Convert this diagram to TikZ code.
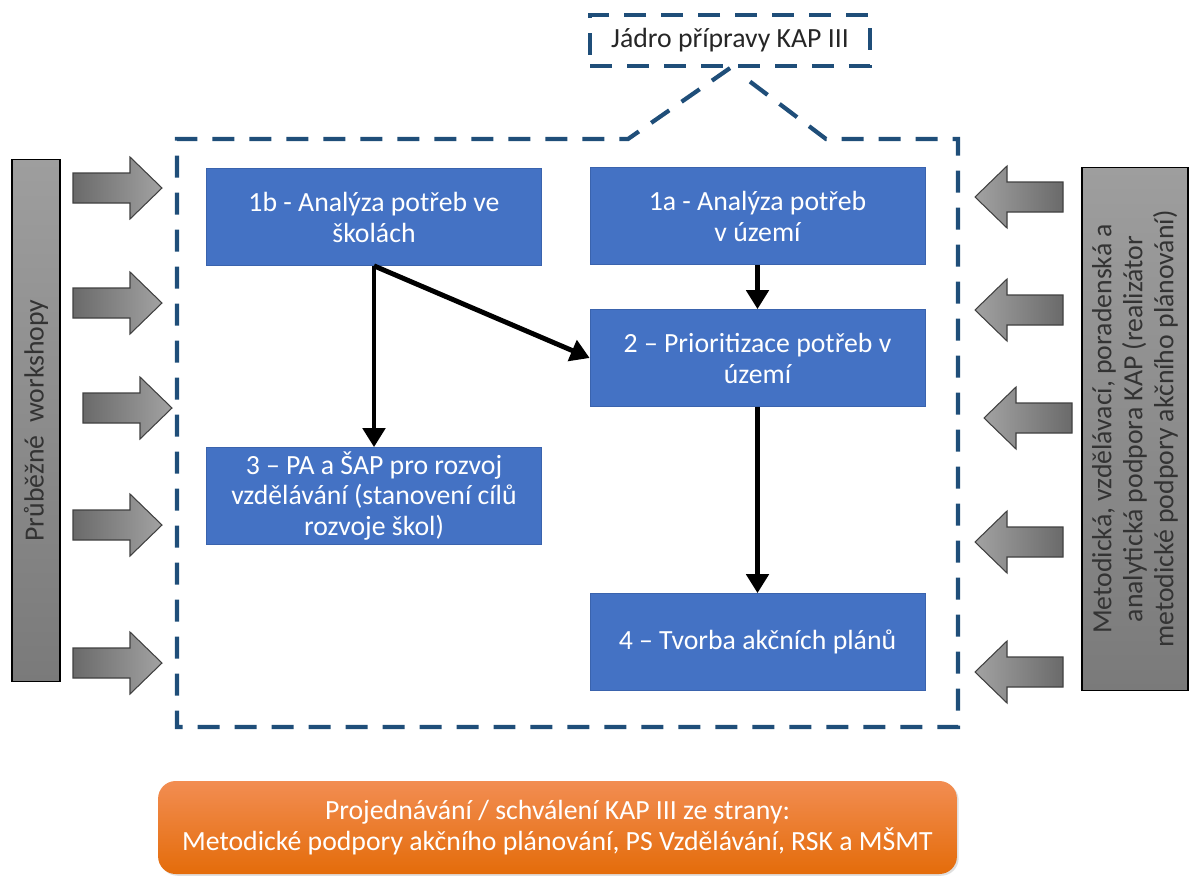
\documentclass[tikz,border=0pt]{standalone}
\usepackage{fontspec}
\setmainfont{Carlito}
\usetikzlibrary{arrows.meta}
\usetikzlibrary{calc}
\usetikzlibrary{shadows}

\definecolor{stepblue}{HTML}{4472C4}
\definecolor{stepedge}{HTML}{3A63AD}
\definecolor{coreblue}{HTML}{1F4E79}
\definecolor{barlight}{HTML}{9E9E9E}
\definecolor{bardark}{HTML}{7A7A7A}
\definecolor{arrlight}{HTML}{A2A2A2}
\definecolor{arrdark}{HTML}{6A6A6A}
\definecolor{orangetop}{HTML}{F28D52}
\definecolor{orangebot}{HTML}{E46C0A}

\tikzset{
  txt/.style={font=\fontsize{15.8}{17.6}\selectfont},
  stepbox/.style={txt, draw=stepedge, fill=stepblue, text=white, align=center,
    minimum width=6.7cm, minimum height=1.94cm, inner sep=2pt},
  flow/.style={-{Triangle[length=0.38cm,width=0.44cm]}, line width=2.8pt},
  corestyle/.style={draw=coreblue, line width=2.4pt, dash pattern=on 0.44cm off 0.3cm},
  sidebar/.style={draw=black, line width=0.6pt, top color=barlight, bottom color=bardark},
  bartext/.style={txt, rotate=90, align=center, text=black!80},
  arrowright/.style={draw=black!75, line width=0.6pt, left color=arrdark, right color=arrlight},
  arrowleft/.style={draw=black!75, line width=0.6pt, left color=arrlight, right color=arrdark}
}

\begin{document}
\begin{tikzpicture}[x=0.02cm,y=-0.02cm]
\useasboundingbox (0,0) rectangle (1190,876);

% title of the core
\node[corestyle, txt, text=black!85, minimum width=5.6cm, minimum height=1.02cm] (kap) at (730,40.5) {Jádro přípravy KAP III};

% dashed core frame with its roof
\coordinate (roofL) at (628,139);
\coordinate (roofR) at (826,139);
\draw[corestyle] (kap.south) -- (roofL) -- (177,139) -- (177,727) -- (958,727) -- (958,139) -- (roofR) -- ($(kap.south)+(18,12)$);

% steps
\node[stepbox] (b1b) at (374,217) {1b - Analýza potřeb ve\\školách};
\node[stepbox] (b1a) at (757.5,216) {1a - Analýza potřeb\\v území};
\node[stepbox] (b2) at (757.5,358) {2 – Prioritizace potřeb v\\území};
\node[stepbox] (b3) at (374,496) {3 – PA a ŠAP pro rozvoj\\vzdělávání (stanovení cílů\\rozvoje škol)};
\node[stepbox] (b4) at (757.5,642) {4 – Tvorba akčních plánů};

\draw[flow] (b1b.south) -- (b3.north);
\draw[flow] (b1b.south) -- (b2.west);
\draw[flow] (b1a.south) -- (b2.north);
\draw[flow] (b2.south) -- (b4.north);

% side bars
\node[sidebar, minimum width=0.96cm, minimum height=10.46cm] (workbar) at (36,420.5) {};
\node[bartext] (worktext) at (workbar.center) {Průběžné \ workshopy};
\node[sidebar, minimum width=2.12cm, minimum height=10.48cm] (supbar) at (1135,429) {};
\node[bartext] (suptext) at (supbar.center) {Metodická, vzdělávací, poradenská a\\analytická podpora KAP (realizátor\\metodické podpory akčního plánování)};

% block arrows into the core
\foreach \x/\y in {73/188, 73/303, 83/408, 73/525, 73/663}
  \draw[arrowright] (\x,\y-15) -- ++(57,0) -- ++(0,-16) -- ++(32,31) -- ++(-32,31) -- ++(0,-16) -- ++(-57,0) -- cycle;
\foreach \x/\y in {1063/197, 1063/310, 1072/418, 1063/542, 1063/672}
  \draw[arrowleft] (\x,\y-15) -- ++(-56,0) -- ++(0,-16) -- ++(-32,31) -- ++(32,31) -- ++(0,-16) -- ++(56,0) -- cycle;

% approval
\node[txt, text=white, align=center, rounded corners=10pt, top color=orangetop, bottom color=orangebot,
  drop shadow={opacity=0.25, shadow xshift=1pt, shadow yshift=-1pt},
  minimum width=15.98cm, minimum height=1.86cm] (approval) at (557.5,827.5)
  {Projednávání / schválení KAP III ze strany:\\Metodické podpory akčního plánování, PS Vzdělávání, RSK a MŠMT};
\end{tikzpicture}
\end{document}
